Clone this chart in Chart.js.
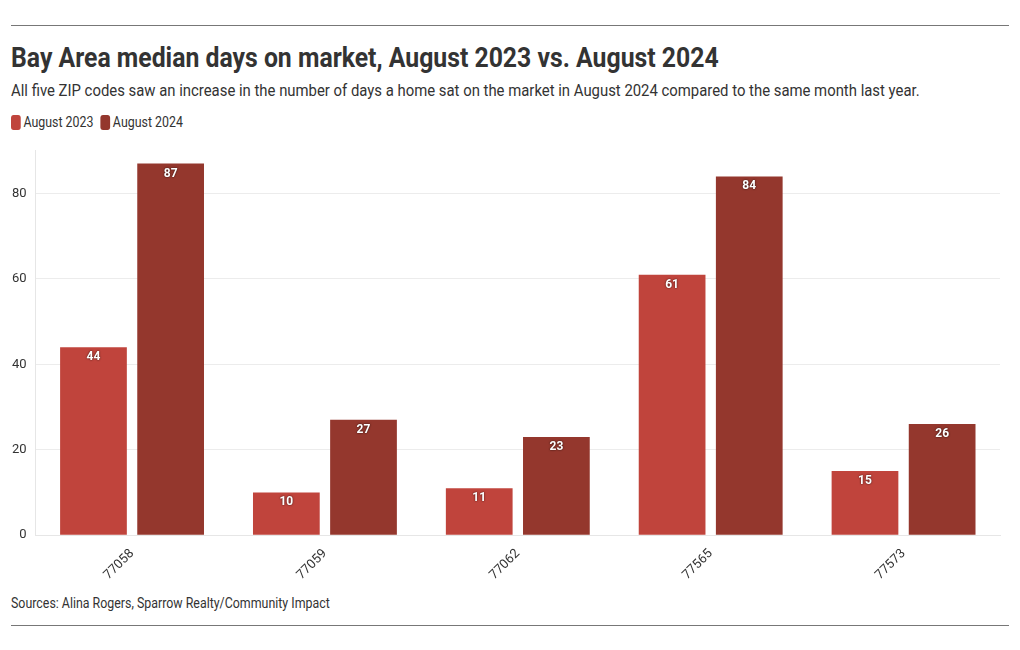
<!DOCTYPE html>
<html>
<head>
<meta charset="utf-8">
<script src="https://cdn.jsdelivr.net/npm/chart.js@4"></script>
<style>
  body { margin: 0; background: #fff; font-family: Roboto, sans-serif; color: #333; }
  .wrap { position: relative; width: 1020px; height: 650px; }
  .rule { position: absolute; left: 11px; width: 998px; height: 1px; background: #777; }
  .t { position: absolute; left: 11px; white-space: nowrap; transform-origin: 0 0; transform: scaleX(0.885); }
  h1 { margin: 0; top: 41px; font-size: 28px; font-weight: bold; color: #333; }
  .sub { top: 81px; font-size: 16px; transform: scaleX(0.93); }
  .legend { top: 114px; font-size: 14px; display: flex; gap: 8px; }
  .legend span { display: inline-flex; align-items: center; }
  .legend i { display: inline-block; width: 11px; height: 15px; border-radius: 3px; margin-right: 3px; }
  .chart { position: absolute; left: 0; top: 134px; width: 1010px; height: 452px; }
  .src { top: 595px; font-size: 14px; }
</style>
</head>
<body>
<div class="wrap">
  <div class="rule" style="top:25px"></div>
  <h1 class="t">Bay Area median days on market, August 2023 vs. August 2024</h1>
  <div class="t sub">All five ZIP codes saw an increase in the number of days a home sat on the market in August 2024 compared to the same month last year.</div>
  <div class="t legend">
    <span><i style="background:#c0443c"></i>August 2023</span>
    <span><i style="background:#94372d"></i>August 2024</span>
  </div>
  <div class="chart"><canvas id="c"></canvas></div>
  <div class="t src">Sources: Alina Rogers, Sparrow Realty/Community Impact</div>
  <div class="rule" style="top:625px"></div>
</div>
<script>
const zipCodes = ['77058', '77059', '77062', '77565', '77573'];
const aug2023 = [44, 10, 11, 61, 15];
const aug2024 = [87, 27, 23, 84, 26];
const yTicks = [0, 20, 40, 60, 80];

const fontFamily = 'Roboto, sans-serif';

// white value labels inside the top of each bar
const barLabels = {
  id: 'barLabels',
  afterDatasetsDraw(chart) {
    const ctx = chart.ctx;
    ctx.save();
    ctx.font = 'bold 12px ' + fontFamily;
    ctx.textAlign = 'center';
    ctx.textBaseline = 'middle';
    ctx.fillStyle = '#fff';
    ctx.shadowColor = 'rgba(0,0,0,0.8)';
    ctx.shadowBlur = 2;
    chart.data.datasets.forEach((ds, i) => {
      chart.getDatasetMeta(i).data.forEach((bar, j) => {
        ctx.fillText(ds.data[j], bar.x, bar.y + 10);
      });
    });
    ctx.restore();
  }
};

new Chart(document.getElementById('c'), {
  type: 'bar',
  data: {
    labels: zipCodes,
    datasets: [
      { label: 'August 2023', data: aug2023, backgroundColor: '#c0443c', barPercentage: 0.865, categoryPercentage: 0.8 },
      { label: 'August 2024', data: aug2024, backgroundColor: '#94372d', barPercentage: 0.865, categoryPercentage: 0.8 }
    ]
  },
  options: {
    responsive: true,
    maintainAspectRatio: false,
    animation: false,
    layout: { padding: { left: 3, right: 10, top: 0 } },
    plugins: { legend: { display: false }, tooltip: { enabled: false } },
    scales: {
      x: {
        grid: { display: false },
        border: { color: '#e6e6e6' },
        ticks: { maxRotation: 45, minRotation: 45, color: '#333', font: { family: fontFamily, size: 13 } }
      },
      y: {
        min: 0,
        max: 90,
        afterBuildTicks: axis => { axis.ticks = yTicks.map(v => ({ value: v })); },
        grid: { color: '#ececec', drawTicks: false },
        border: { color: '#e6e6e6' },
        ticks: { padding: 9, color: '#333', font: { family: fontFamily, size: 13 } }
      }
    }
  },
  plugins: [barLabels]
});
</script>
</body>
</html>
